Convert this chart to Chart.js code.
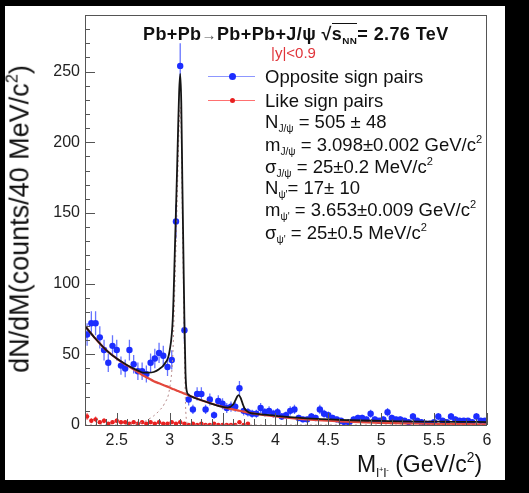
<!DOCTYPE html>
<html>
<head>
<meta charset="utf-8">
<script src="https://cdn.jsdelivr.net/npm/chart.js@4.4.1/dist/chart.umd.min.js"></script>
<style>
  html, body { margin: 0; padding: 0; background: #000; }
  #wrap { position: relative; width: 529px; height: 493px; overflow: hidden;
          font-family: "Liberation Sans", Arial, Helvetica, sans-serif; color: #111; }
  #panel { position: absolute; left: 5px; top: 6px; width: 500px; height: 474px; background: #fff; }
  canvas { position: absolute; left: 0; top: 0; }
  .t { position: absolute; white-space: nowrap; line-height: 1; }
  .t sub { font-size: 0.55em; vertical-align: -0.4em; line-height: 0; }
  .t sup { font-size: 0.6em; vertical-align: 0.7em; line-height: 0; }
  .leg { font-size: 18.5px; }
  .sym { position: absolute; height: 1px; width: 47px; }
  .dot { position: absolute; border-radius: 50%; }
</style>
</head>
<body>
<div id="wrap">
  <div id="panel"></div>
  <canvas id="myChart" width="529" height="493"></canvas>

  <!-- title -->
  <div class="t" style="left:143px; top:25px; font-size:18px; font-weight:bold; letter-spacing:0.4px;">Pb+Pb<span style="font-size:15px; color:#555;">&#8594;</span>Pb+Pb+J/&psi; <span>&radic;</span><span style="border-top:1px solid #111;">s<sub>NN</sub></span>= 2.76 TeV</div>
  <div class="t" style="left:271px; top:45px; font-size:15px; color:#e0343a;">|y|&lt;0.9</div>

  <!-- legend -->
  <div class="sym" style="left:208px; top:76px; background:#8d97ff;"></div>
  <div class="dot" style="left:229px; top:73px; width:7px; height:7px; background:#1c2dff;"></div>
  <div class="t leg" style="left:265px; top:68px;">Opposite sign pairs</div>
  <div class="sym" style="left:208px; top:100px; background:#ff7070;"></div>
  <div class="dot" style="left:230px; top:98px; width:5px; height:5px; background:#e82020;"></div>
  <div class="t leg" style="left:265px; top:92px;">Like sign pairs</div>
  <div class="t leg" style="left:265px; top:113px;">N<sub>J/&psi;</sub> = 505 &plusmn; 48</div>
  <div class="t leg" style="left:265px; top:136px;">m<sub>J/&psi;</sub> = 3.098&plusmn;0.002 GeV/c<sup>2</sup></div>
  <div class="t leg" style="left:265px; top:158px;">&sigma;<sub>J/&psi;</sub> = 25&plusmn;0.2 MeV/c<sup>2</sup></div>
  <div class="t leg" style="left:265px; top:179px;">N<sub>&psi;'</sub>= 17&plusmn; 10</div>
  <div class="t leg" style="left:265px; top:201px;">m<sub>&psi;'</sub> = 3.653&plusmn;0.009 GeV/c<sup>2</sup></div>
  <div class="t leg" style="left:265px; top:224px;">&sigma;<sub>&psi;'</sub> = 25&plusmn;0.5 MeV/c<sup>2</sup></div>

  <!-- axis titles -->
  <div class="t" id="ytitle" style="left:20px; top:219px; font-size:27px; transform: translate(-50%,-50%) rotate(-90deg);">dN/dM(counts/40 MeV/c<sup>2</sup>)</div>
  <div class="t" style="left:357px; top:453px; font-size:23px;">M<sub>l<sup>+</sup>l<sup>-</sup></sub> (GeV/c<sup>2</sup>)</div>
</div>

<script>
// opposite sign pairs, 40 MeV bins
const osMass = [2.22, 2.26, 2.30, 2.34, 2.38, 2.42, 2.46, 2.50, 2.54, 2.58, 2.62, 2.66, 2.70, 2.74, 2.78, 2.82,
  2.86, 2.90, 2.94, 2.98, 3.02, 3.06, 3.10, 3.14, 3.18, 3.22, 3.26, 3.30, 3.34, 3.38, 3.42, 3.46, 3.50, 3.54,
  3.58, 3.62, 3.66, 3.70, 3.74, 3.78, 3.82, 3.86, 3.90, 3.94, 3.98, 4.02, 4.06, 4.10, 4.14, 4.18, 4.22, 4.26,
  4.30, 4.34, 4.38, 4.42, 4.46, 4.50, 4.54, 4.58, 4.62, 4.66, 4.70, 4.74, 4.78, 4.82, 4.86, 4.90, 4.94, 4.98,
  5.02, 5.06, 5.10, 5.14, 5.18, 5.22, 5.26, 5.30, 5.34, 5.38, 5.42, 5.46, 5.50, 5.54, 5.58, 5.62, 5.66, 5.70,
  5.74, 5.78, 5.82, 5.86, 5.90, 5.94, 5.98];
const osCounts = [64, 72, 72, 62, 53, 44, 56, 53, 42, 40, 53, 43, 38, 38, 36, 44,
  47, 51, 49, 41, 46, 144, 254, 67, 18, 11, 22, 22, 11, 18, 7, 17, 15, 12,
  13, 13, 26, 10, 9, 8, 8, 12, 9, 10, 8, 9, 6, 7, 10, 11, 5, 4,
  4, 6, 5, 11, 8, 7, 5, 4, 3, 1, 2, 4, 5, 5, 4, 8, 4, 3,
  4, 9, 5, 4, 4, 3, 2, 6, 3, 2, 1, 1, 2, 6, 3, 2, 6, 4,
  3, 3, 3, 2, 6, 3, 3];
const osErr = [8, 8.5, 8.5, 7.9, 7.3, 6.6, 7.5, 7.3, 6.5, 6.3, 7.3, 6.6, 6.2, 6.2, 6, 6.6,
  6.9, 7.1, 7, 6.4, 6.8, 12, 16, 8.2, 4.2, 3.3, 4.7, 4.7, 3.3, 4.2, 2.6, 4.1, 3.9, 3.5,
  3.6, 3.6, 5.1, 3.2, 3, 2.8, 2.8, 3.5, 3, 3.2, 2.8, 3, 2.4, 2.6, 3.2, 3.3, 2.2, 2,
  2, 2.4, 2.2, 3.3, 2.8, 2.6, 2.2, 2, 1.7, 1, 1.4, 2, 2.2, 2.2, 2, 2.8, 2, 1.7,
  2, 3, 2.2, 2, 2, 1.7, 1.4, 2.4, 1.7, 1.4, 1, 1, 1.4, 2.4, 1.7, 1.4, 2.4, 2,
  1.7, 1.7, 1.7, 1.4, 2.4, 1.7, 1.7];

// like sign pairs
const lsMass = [2.22, 2.26, 2.30, 2.34, 2.38, 2.42, 2.46, 2.50, 2.54, 2.58, 2.62, 2.66, 2.70, 2.74, 2.78, 2.82,
  2.86, 2.90, 2.94, 2.98, 3.02, 3.06, 3.10, 3.14, 3.18, 3.22, 3.26, 3.30, 3.34, 3.38, 3.42, 3.46, 3.50, 3.54,
  3.58, 3.62, 3.66, 3.70, 3.74];
const lsCounts = [6, 3, 4, 2, 3, 1, 2, 3, 2, 2, 1, 2, 1, 2, 1, 2,
  1, 2, 1, 1, 2, 1, 2, 1, 0, 1, 0, 1, 0, 0, 1, 0, 0, 0,
  0, 0, 2, 0, 1];
const lsErr = [2.4, 1.7, 2, 1.4, 1.7, 1, 1.4, 1.7, 1.4, 1.4, 1, 1.4, 1, 1.4, 1, 1.4,
  1, 1.4, 1, 1, 1.4, 1, 1.4, 1, 0, 1, 0, 1, 0, 0, 1, 0, 0, 0,
  0, 0, 1.4, 0, 1];

// fit curves
const fitMass = [2.2, 2.3, 2.4, 2.5, 2.6, 2.7, 2.75, 2.8, 2.85, 2.9, 2.95, 3.0, 3.03, 3.05, 3.07, 3.08, 3.09,
  3.1, 3.11, 3.12, 3.13, 3.14, 3.15, 3.16, 3.18, 3.2, 3.3, 3.4, 3.5, 3.55, 3.6, 3.62, 3.64, 3.653, 3.67,
  3.69, 3.71, 3.75, 3.8, 3.9, 4.0, 4.2, 4.4, 4.6, 4.8, 5.0, 5.2, 5.4, 5.6, 5.8, 6.0];
const fitBackground = [70, 61, 53, 47, 42, 37.5, 35, 33, 31, 29.5, 28, 26.5, 25.5, 25, 24.3, 24, 23.7,
  23.4, 23.1, 22.8, 22.5, 22.2, 21.9, 21.6, 21, 20.3, 17.5, 15, 12.8, 11.9, 11, 10.7, 10.4, 10.2, 9.9,
  9.6, 9.3, 8.7, 8, 6.9, 6.0, 4.5, 3.4, 2.6, 2, 1.5, 1.2, 0.9, 0.7, 0.55, 0.45];
const fitJpsi = [0, 0, 0, 0, 0.3, 1, 2, 4, 6.5, 10, 15, 26, 50, 100, 155, 185, 212,
  225, 205, 150, 100, 50, 15, 3, 0.3, 0, 0, 0, 0, 0, 0, 0, 0, 0, 0,
  0, 0, 0, 0, 0, 0, 0, 0, 0, 0, 0, 0, 0, 0, 0, 0];
const fitTotal = [70, 61, 53, 47, 42.3, 38.5, 37, 37, 37.5, 39.5, 43, 52.5, 75.5, 125, 179.3, 209, 235.7,
  248.4, 228.1, 172.8, 122.5, 72.2, 36.9, 24.6, 21.3, 20.3, 17.5, 15, 12.8, 12.3, 14.5, 17.2, 20.4, 21.2, 19.4,
  15.1, 11.5, 8.9, 8, 7.3, 6.5, 5.2, 4.3, 3.7, 3.2, 2.9, 2.6, 2.4, 2.3, 2.2, 2.1];

// axis tick labels
const xTickLabels = [2.5, 3, 3.5, 4, 4.5, 5, 5.5, 6];
const yTickLabels = [0, 50, 100, 150, 200, 250];

const HALF_BIN = 0.02;

const toXY = (xs, ys) => xs.map((x, i) => ({ x: x, y: ys[i] }));

// error bars (vertical + bin width), drawn under the markers
const errorBars = {
  id: "errorBars",
  beforeDatasetsDraw(chart) {
    const { ctx, chartArea, scales } = chart;
    const sx = scales.x, sy = scales.y;
    ctx.save();
    ctx.beginPath();
    ctx.rect(chartArea.left, chartArea.top, chartArea.right - chartArea.left, chartArea.bottom - chartArea.top);
    ctx.clip();
    const draw = (xs, ys, es, color, w) => {
      ctx.strokeStyle = color;
      ctx.lineWidth = w;
      xs.forEach((m, i) => {
        const px = sx.getPixelForValue(m);
        const py = sy.getPixelForValue(ys[i]);
        ctx.beginPath();
        ctx.moveTo(sx.getPixelForValue(m - HALF_BIN), py);
        ctx.lineTo(sx.getPixelForValue(m + HALF_BIN), py);
        if (es[i] > 0) {
          ctx.moveTo(px, sy.getPixelForValue(ys[i] - es[i]));
          ctx.lineTo(px, sy.getPixelForValue(ys[i] + es[i]));
        }
        ctx.stroke();
      });
    };
    draw(lsMass, lsCounts, lsErr, "#ff6a6a", 1.2);
    draw(osMass, osCounts, osErr, "#6674ff", 1.3);
    ctx.restore();
  },
};

// ROOT style frame with ticks pointing inwards
const rootFrame = {
  id: "rootFrame",
  afterDatasetsDraw(chart) {
    const { ctx, chartArea, scales } = chart;
    const sx = scales.x, sy = scales.y;
    ctx.save();
    ctx.strokeStyle = "#555";
    ctx.lineWidth = 1;
    ctx.strokeRect(chartArea.left + 0.5, chartArea.top + 0.5, chartArea.right - chartArea.left - 1, chartArea.bottom - chartArea.top);
    ctx.beginPath();
    for (let v = 0; v <= 290; v += 10) {
      const py = Math.round(sy.getPixelForValue(v)) + 0.5;
      const len = v % 50 === 0 ? 10 : 5;
      ctx.moveTo(chartArea.left, py);
      ctx.lineTo(chartArea.left + len, py);
    }
    for (let k = 22; k <= 60; k++) {
      const px = Math.round(sx.getPixelForValue(k / 10)) + 0.5;
      const len = k % 5 === 0 ? 12 : 6;
      ctx.moveTo(px, chartArea.bottom);
      ctx.lineTo(px, chartArea.bottom - len);
    }
    ctx.stroke();
    ctx.restore();
  },
};

const tickFont = { family: '"Liberation Sans", Arial, sans-serif', size: 16 };

const config = {
  type: "scatter",
  data: {
    datasets: [
      {
        label: "fit total",
        data: toXY(fitMass, fitTotal),
        showLine: true,
        borderColor: "#151515",
        borderWidth: 1.8,
        pointRadius: 0,
        cubicInterpolationMode: "monotone",
      },
      {
        label: "J/psi signal",
        data: toXY(fitMass, fitJpsi),
        showLine: true,
        borderColor: "#b78a8a",
        borderWidth: 1,
        borderDash: [2, 3],
        pointRadius: 0,
        cubicInterpolationMode: "monotone",
      },
      {
        label: "background",
        data: toXY(fitMass, fitBackground),
        showLine: true,
        borderColor: "#e3473c",
        borderWidth: 2.2,
        pointRadius: 0,
        cubicInterpolationMode: "monotone",
      },
      {
        label: "Opposite sign pairs",
        data: toXY(osMass, osCounts),
        pointRadius: 3.2,
        pointBackgroundColor: "#1c2dff",
        pointBorderWidth: 0,
      },
      {
        label: "Like sign pairs",
        data: toXY(lsMass, lsCounts),
        pointRadius: 2.2,
        pointBackgroundColor: "#e82020",
        pointBorderWidth: 0,
      },
    ],
  },
  options: {
    responsive: false,
    animation: false,
    devicePixelRatio: 1,
    layout: { padding: { left: 0, right: 42, top: 15, bottom: 0 } },
    plugins: { legend: { display: false }, tooltip: { enabled: false } },
    scales: {
      x: {
        type: "linear",
        min: 2.2,
        max: 6,
        grid: { display: false, drawTicks: false },
        border: { display: false },
        afterBuildTicks: (s) => { s.ticks = xTickLabels.map((v) => ({ value: v })); },
        ticks: {
          autoSkip: false,
          maxRotation: 0,
          padding: 6,
          color: "#222",
          font: tickFont,
          callback: (v) => String(v),
        },
        afterFit: (s) => { s.height = 68; },
      },
      y: {
        min: 0,
        max: 290,
        grid: { display: false, drawTicks: false },
        border: { display: false },
        afterBuildTicks: (s) => { s.ticks = yTickLabels.map((v) => ({ value: v })); },
        ticks: {
          padding: 5,
          color: "#222",
          font: tickFont,
          callback: (v) => String(v),
        },
        afterFit: (s) => { s.width = 85; },
      },
    },
  },
  plugins: [errorBars, rootFrame],
};

const myChart = new Chart(document.getElementById("myChart"), config);
</script>
</body>
</html>
